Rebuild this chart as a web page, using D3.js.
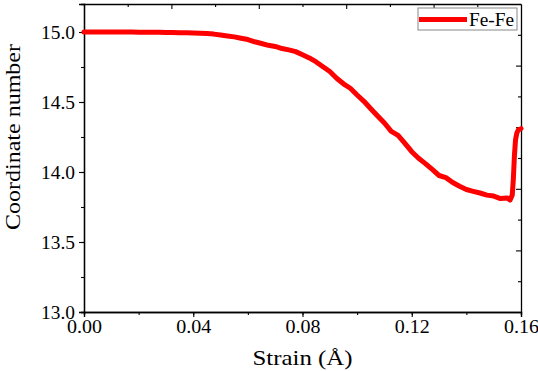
<!DOCTYPE html>
<html><head><meta charset="utf-8"><script src="https://cdn.jsdelivr.net/npm/d3@7"></script></head>
<body style="margin:0">
<script>
// strain values (x) and Fe-Fe coordinate number (y)
const strain = [
    0.0000, 0.0025, 0.0050, 0.0075, 0.0100, 0.0125, 0.0150, 0.0175, 0.0200, 0.0225,
    0.0250, 0.0275, 0.0300, 0.0325, 0.0350, 0.0375, 0.0400, 0.0425, 0.0450, 0.0475,
    0.0500, 0.0525, 0.0550, 0.0575, 0.0600, 0.0625, 0.0650, 0.0675, 0.0700, 0.0725,
    0.0750, 0.0775, 0.0800, 0.0825, 0.0850, 0.0875, 0.0900, 0.0925, 0.0950, 0.0975,
    0.1000, 0.1025, 0.1050, 0.1075, 0.1100, 0.1125, 0.1150, 0.1175, 0.1200, 0.1225,
    0.1250, 0.1275, 0.1300, 0.1325, 0.1350, 0.1375, 0.1400, 0.1425, 0.1450, 0.1475,
    0.1500, 0.1525, 0.1550, 0.1560, 0.1568, 0.1572, 0.1576, 0.1580, 0.1585, 0.1590,
    0.1600
]
const coordFeFe = [
    15.000, 15.000, 15.000, 15.000, 15.000, 15.000, 15.000, 15.000, 14.999, 14.999,
    14.998, 14.998, 14.997, 14.996, 14.995, 14.994, 14.993, 14.991, 14.990, 14.985,
    14.978, 14.972, 14.965, 14.955, 14.946, 14.930, 14.918, 14.905, 14.897, 14.882,
    14.872, 14.860, 14.838, 14.815, 14.786, 14.752, 14.718, 14.670, 14.630, 14.598,
    14.550, 14.505, 14.452, 14.400, 14.350, 14.290, 14.262, 14.205, 14.145, 14.098,
    14.060, 14.018, 13.975, 13.960, 13.925, 13.898, 13.875, 13.862, 13.850, 13.835,
    13.828, 13.810, 13.815, 13.800, 13.835, 13.950, 14.120, 14.230, 14.280, 14.300,
    14.310
]
const xTicks = [0, 0.04, 0.08, 0.12, 0.16]
const yTicks = [13.0, 13.5, 14.0, 14.5, 15.0]
const seriesName = "Fe-Fe"

const W = 538, H = 371
const margin = { top: 4, right: 17, bottom: 59, left: 84 }
const width = W - margin.left - margin.right,
    height = H - margin.top - margin.bottom

const svg = d3.select("body")
    .append("svg")
    .attr("width", W)
    .attr("height", H)
    .append("g")
    .attr("transform", `translate(${margin.left}, ${margin.top})`)

// serif face + fixed widths
function serif(sel, size, len) {
    sel.style("font-size", size + "px")
        .style("font-family", '"Liberation Serif"')
        .attr("fill", "#000")
    if (len) sel.attr("textLength", len).attr("lengthAdjust", "spacingAndGlyphs")
    return sel
}

/* scales */
const x = d3.scaleLinear().domain([0, 0.16]).range([0, width])
const y = d3.scaleLinear().domain([13, 15.2]).range([height, 0])

/* bottom axis, ticks outward */
const xMinor = d3.range(0, 0.1601, 0.02)
svg.append("g")
    .attr("transform", `translate(0, ${height})`)
    .call(d3.axisBottom(x).tickValues(xMinor).tickSize(3).tickFormat(""))
svg.append("g")
    .attr("transform", `translate(0, ${height})`)
    .call(d3.axisBottom(x).tickValues(xTicks).tickSize(5).tickPadding(3).tickFormat(d3.format(".2f")))
    .selectAll("text").call(serif, 19, 35)

/* left axis, ticks outward */
const yMinor = d3.range(13, 15.2, 0.25)
svg.append("g")
    .call(d3.axisLeft(y).tickValues(yMinor).tickSize(3).tickFormat(""))
svg.append("g")
    .call(d3.axisLeft(y).tickValues(yTicks).tickSize(5).tickPadding(4).tickFormat(d3.format(".1f")))
    .selectAll("text").call(serif, 19, 34)

/* top and right frame, ticks inward, 5 major divisions each */
const frac = d3.scaleLinear().domain([0, 1])
const topScale = frac.copy().range([0, width])
const rightScale = frac.copy().range([height, 0])
const fracTicks = d3.range(1, 10).map(i => i / 10)
svg.append("g")
    .call(d3.axisBottom(topScale).tickValues(fracTicks)
        .tickSizeInner(0).tickSizeOuter(0).tickFormat(""))
    .call(g => g.selectAll(".tick line")
        .attr("y2", (d, i) => (i % 2 === 1 ? 5 : 3)))
svg.append("g")
    .attr("transform", `translate(${width}, 0)`)
    .call(d3.axisLeft(rightScale).tickValues(fracTicks)
        .tickSizeInner(0).tickSizeOuter(0).tickFormat(""))
    .call(g => g.selectAll(".tick line")
        .attr("x2", (d, i) => (i % 2 === 1 ? -5 : -3)))

svg.selectAll(".domain").attr("stroke", "#000").attr("stroke-width", 1.3)
svg.selectAll(".tick line").attr("stroke", "#000").attr("stroke-width", 1.1)

/* data line */
const points = strain.map((s, i) => ({ s: s, v: coordFeFe[i] }))
svg.append("path")
    .datum(points)
    .attr("fill", "none")
    .attr("stroke", "#ff0000")
    .attr("stroke-width", 5)
    .attr("stroke-linejoin", "round")
    .attr("stroke-linecap", "round")
    .attr("d", d3.line().x(d => x(d.s)).y(d => y(d.v)))

/* axis titles */
svg.append("text")
    .attr("text-anchor", "middle")
    .attr("x", width / 2)
    .attr("y", height + 53)
    .text("Strain (Å)")
    .call(serif, 22, 100)
svg.append("text")
    .attr("text-anchor", "middle")
    .attr("transform", "rotate(-90)")
    .attr("x", -133)
    .attr("y", -64)
    .text("Coordinate number")
    .call(serif, 21, 186)

/* legend */
const legend = svg.append("g").attr("transform", `translate(${width - 103}, 4)`)
legend.append("rect")
    .attr("width", 99).attr("height", 22)
    .attr("fill", "#fff").attr("stroke", "#888").attr("stroke-width", 1)
legend.append("line")
    .attr("x1", 1).attr("x2", 49).attr("y1", 11.5).attr("y2", 11.5)
    .attr("stroke", "#ff0000").attr("stroke-width", 5)
legend.append("text")
    .attr("x", 51).attr("y", 18)
    .text(seriesName)
    .call(serif, 19, 45)
</script>
</body>
</html>
